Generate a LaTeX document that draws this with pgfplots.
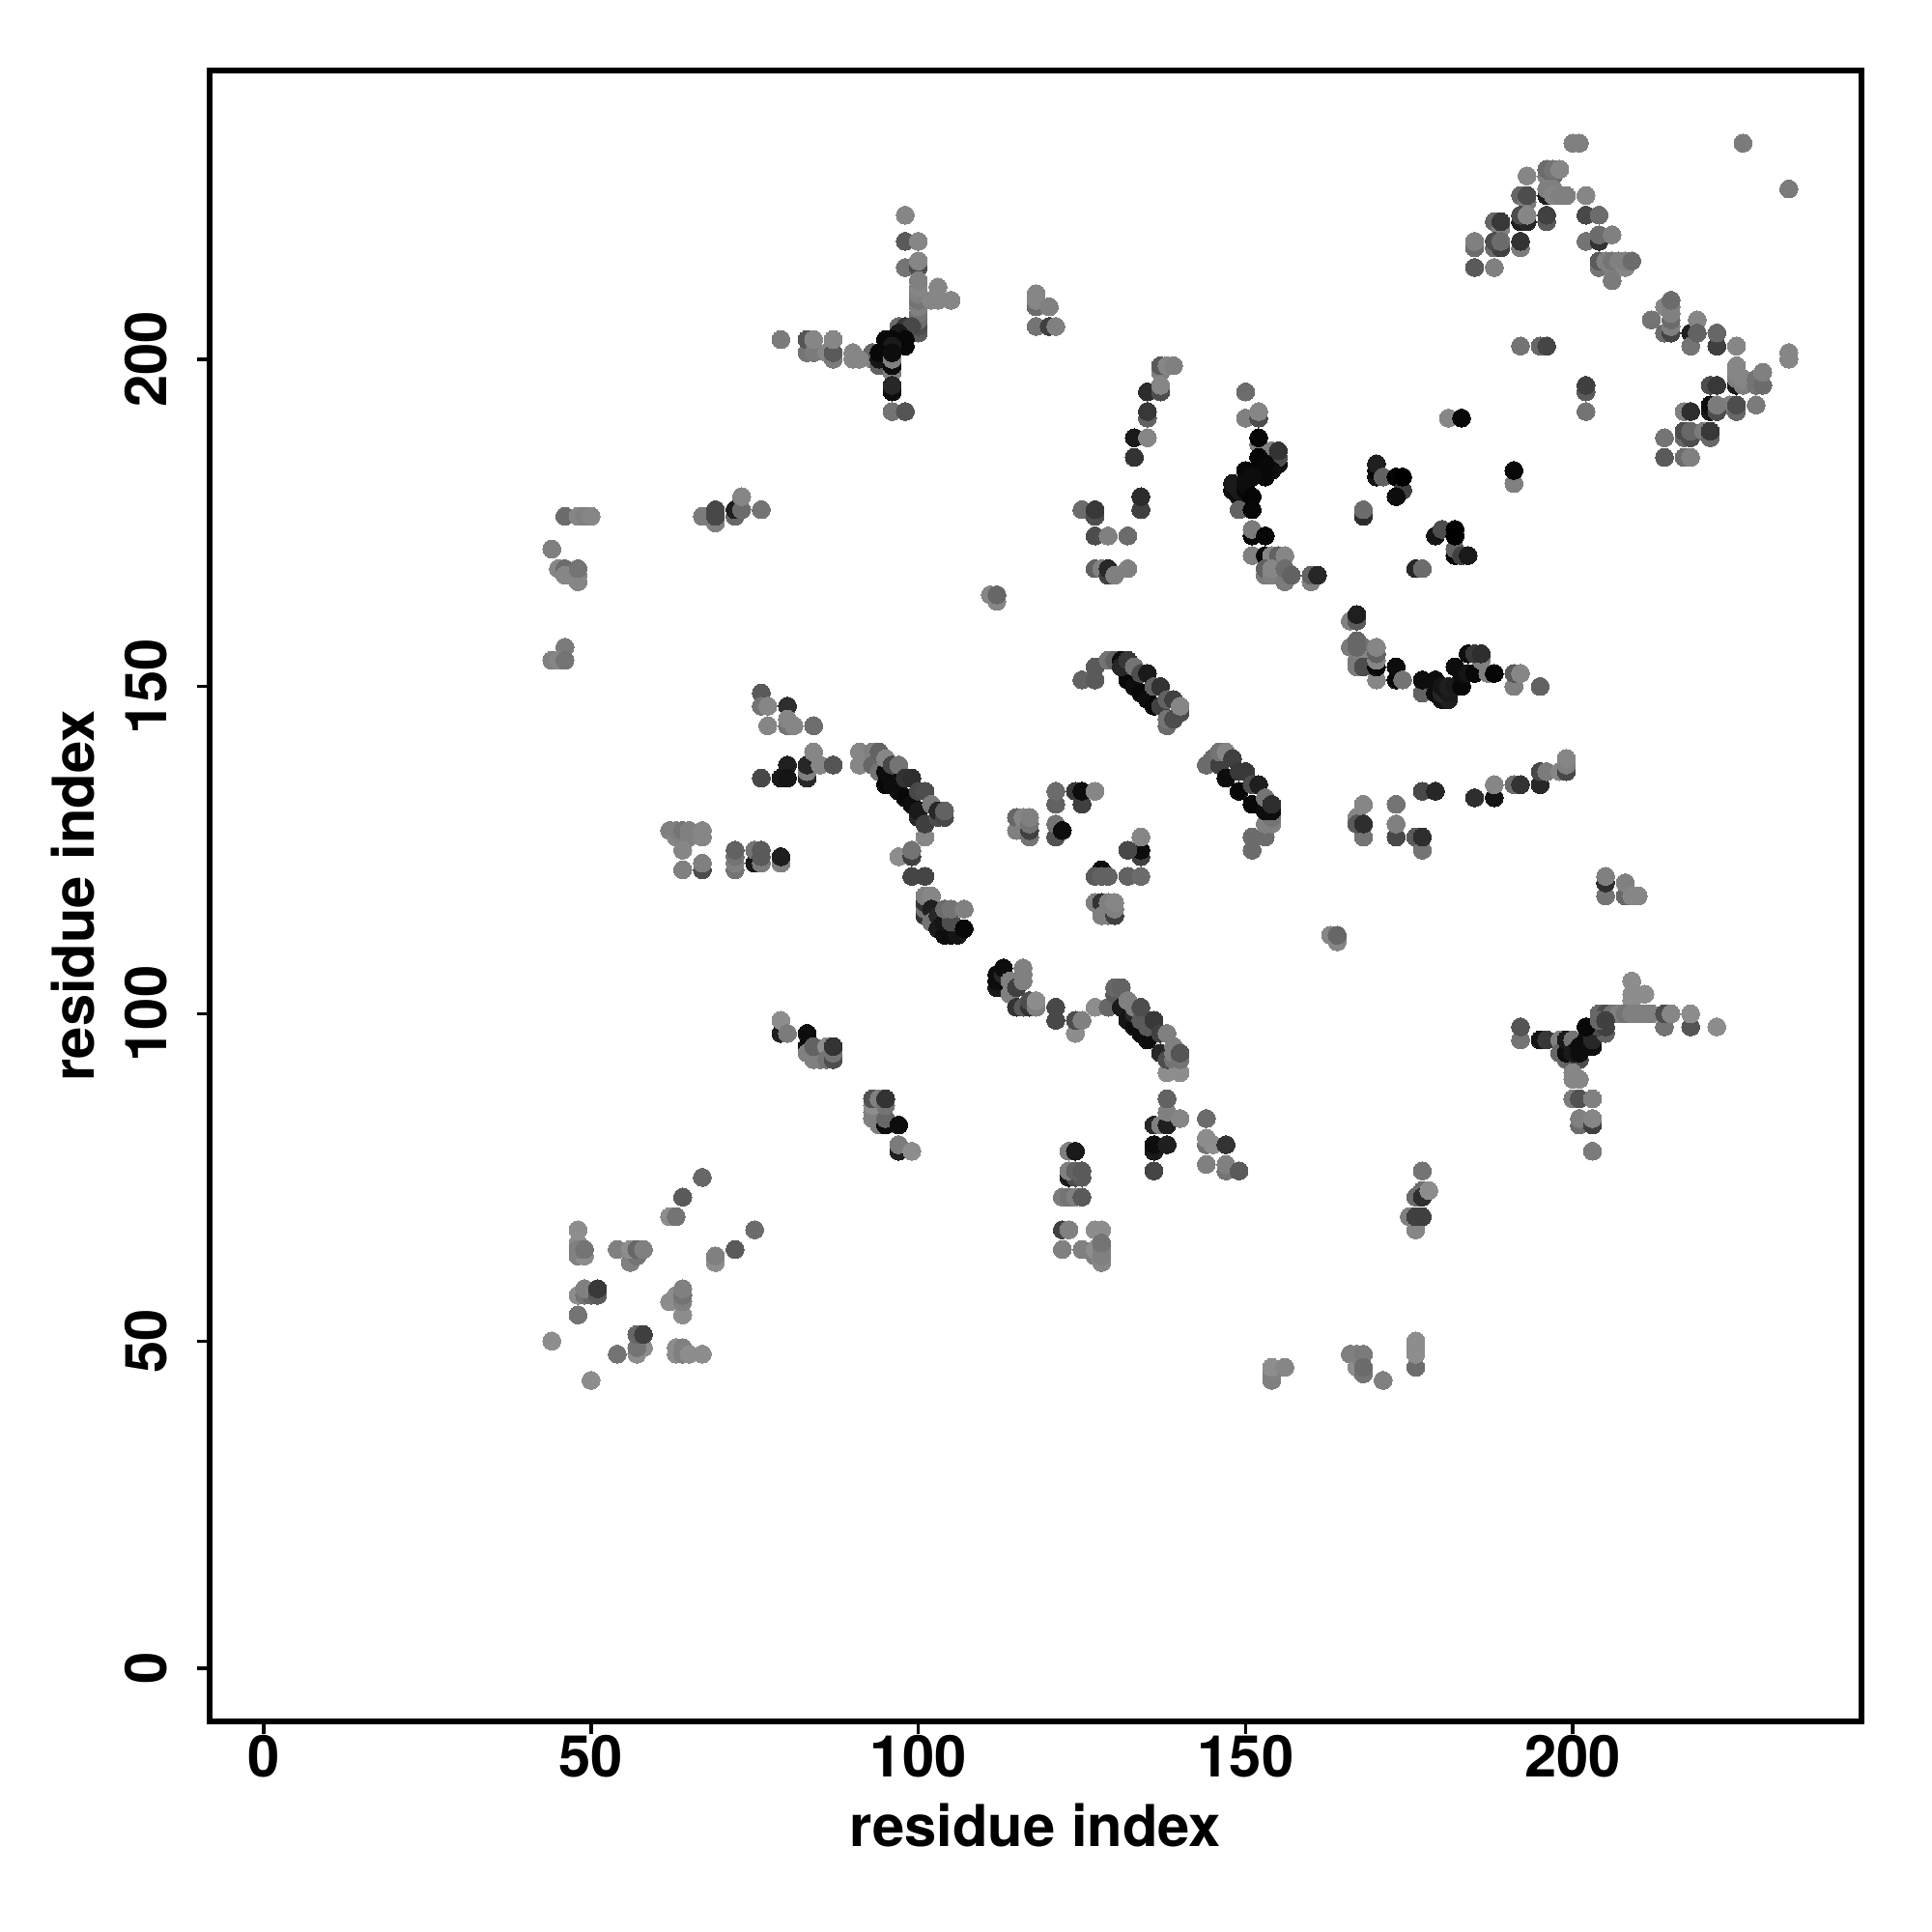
\documentclass[border=0pt]{standalone}
\usepackage{fontspec}
\setmainfont{TeX Gyre Heros}
\usepackage{pgfplots}
\usepackage{pgfplotstable}
\pgfplotsset{compat=1.18}
\pgfplotstableread[row sep=\\]{
x y g\\
44 50 55\\ 50 44 55\\ 48 54 45\\ 54 48 45\\ 57 48 55\\ 58 49 55\\ 57 49 45\\ 57 51 40\\ 58 51 25\\
63 49 55\\ 63 48 55\\ 64 49 50\\ 64 48 50\\ 65 48 55\\ 67 48 55\\
64 54 55\\ 62 56 55\\ 63 57 55\\ 64 56 50\\ 64 57 45\\ 64 58 50\\
48 57 55\\ 49 57 45\\ 50 57 40\\ 49 58 50\\ 51 57 35\\ 51 58 22\\
48 67 55\\ 48 65 55\\ 48 63 50\\ 49 63 55\\ 48 64 50\\ 49 64 45\\
54 64 50\\ 56 62 50\\ 57 63 45\\ 56 64 55\\ 57 64 40\\ 58 64 50\\
69 62 55\\ 69 63 50\\ 72 64 35\\ 75 67 42\\ 67 75 40\\ 64 72 35\\ 62 69 55\\ 63 69 45\\
79 97 12\\ 79 99 55\\ 80 97 48\\ 83 97 5\\ 83 95 5\\ 83 94 50\\ 84 93 50\\ 85 93 50\\ 84 95 38\\ 86 95 55\\ 86 93 45\\ 87 93 30\\ 87 94 45\\ 87 95 20\\
93 84 50\\ 93 85 50\\ 93 86 55\\ 94 83 50\\ 93 87 32\\ 94 87 50\\ 95 83 5\\ 95 84 40\\ 95 86 45\\ 95 87 20\\ 97 83 5\\
97 79 12\\ 97 80 48\\ 99 79 55\\
112 104 10\\ 112 105 5\\ 112 106 5\\ 113 106 15\\ 113 107 5\\ 114 103 50\\ 114 105 50\\ 115 104 25\\ 116 106 50\\ 116 107 50\\ 116 105 50\\
115 101 20\\ 116 101 35\\ 117 101 20\\ 117 102 30\\ 118 101 50\\ 118 102 55\\
121 101 28\\ 121 99 28\\ 124 97 55\\ 124 99 30\\ 125 99 50\\ 127 101 55\\ 129 101 40\\
130 103 35\\ 130 104 40\\ 131 104 38\\ 131 101 10\\ 132 102 50\\ 132 99 8\\ 133 98 5\\ 133 100 15\\ 133 101 50\\ 134 97 5\\ 134 99 35\\ 134 101 30\\ 135 96 5\\ 135 98 35\\ 136 99 22\\ 137 94 15\\ 137 97 25\\ 138 91 55\\ 138 93 30\\ 139 93 45\\ 138 97 50\\ 139 94 50\\ 139 95 50\\ 140 91 55\\ 140 93 45\\ 140 94 33\\
136 83 15\\ 137 83 50\\ 138 83 12\\ 138 85 50\\ 138 87 38\\ 140 84 52\\ 144 84 42\\ 144 80 45\\ 144 81 55\\ 145 80 55\\ 147 80 20\\ 144 77 50\\ 147 76 45\\ 147 77 50\\ 149 76 35\\
136 79 10\\ 136 80 5\\ 138 80 12\\ 136 76 27\\
123 79 50\\ 124 79 10\\ 123 75 10\\ 124 75 30\\ 125 75 35\\ 123 76 50\\ 124 76 38\\ 125 76 35\\ 122 72 48\\ 123 72 45\\ 124 72 50\\ 125 72 35\\
122 67 25\\ 123 67 50\\ 122 64 50\\ 125 64 50\\ 127 67 55\\ 128 67 55\\ 127 63 50\\ 127 64 55\\ 128 62 52\\ 128 63 50\\ 128 64 50\\ 128 65 45\\
154 44 50\\ 154 45 50\\ 154 46 55\\ 156 46 52\\ 166 48 50\\ 167 46 55\\ 167 48 50\\ 168 48 48\\ 168 45 45\\ 168 46 42\\ 171 44 50\\
176 46 42\\ 176 48 55\\ 176 49 55\\ 176 50 55\\
177 76 45\\ 177 73 42\\ 176 72 42\\ 177 72 18\\ 178 73 55\\ 175 69 50\\ 176 67 52\\ 176 69 25\\ 177 69 25\\
209 102 55\\ 209 103 55\\ 209 105 55\\ 211 103 55\\
204 100 40\\ 205 100 30\\ 206 100 45\\ 207 100 50\\ 208 100 45\\ 209 100 50\\ 210 100 50\\ 211 100 50\\ 212 100 50\\ 214 98 45\\ 214 100 30\\ 215 100 52\\ 218 98 33\\ 218 100 55\\ 222 98 55\\
192 96 45\\ 192 98 33\\ 195 96 8\\ 196 96 22\\ 198 96 50\\ 198 94 40\\ 199 93 40\\ 200 93 35\\ 201 93 30\\ 199 94 5\\ 199 96 10\\ 200 96 45\\ 200 94 10\\ 201 94 5\\ 201 95 5\\ 202 95 5\\ 203 95 5\\ 202 96 5\\ 203 96 15\\ 205 97 38\\ 204 98 30\\ 205 98 25\\ 202 98 3\\ 204 99 40\\ 205 99 25\\
200 90 52\\ 200 91 52\\ 201 90 52\\ 200 87 48\\ 201 87 32\\ 203 87 50\\ 201 83 42\\ 201 84 50\\ 203 83 25\\ 203 84 52\\ 203 79 48\\
46 156 48\\ 44 154 50\\ 45 154 52\\ 46 154 45\\
76 149 35\\ 76 147 45\\ 77 147 52\\ 80 147 18\\ 77 144 52\\ 80 144 45\\ 80 145 52\\ 81 144 52\\ 84 144 43\\
83 136 15\\ 83 137 50\\ 80 138 12\\ 83 138 15\\ 84 140 52\\ 85 138 52\\ 87 138 33\\ 76 136 28\\ 79 136 10\\ 80 136 8\\
91 140 52\\ 91 138 52\\ 93 140 50\\ 93 138 40\\ 94 137 45\\ 94 140 38\\ 95 135 3\\ 95 137 5\\ 96 135 5\\ 96 136 5\\ 95 139 52\\ 96 138 28\\ 97 134 5\\ 97 138 45\\ 98 133 3\\ 98 136 20\\ 99 136 18\\ 99 132 5\\ 100 130 15\\ 100 131 10\\ 100 134 28\\ 101 127 52\\ 101 129 25\\ 101 134 30\\ 102 132 48\\ 103 130 30\\ 103 131 15\\ 104 130 28\\ 104 131 38\\
62 128 50\\ 63 127 52\\ 63 128 50\\ 64 127 50\\ 64 128 45\\ 65 127 50\\ 65 128 50\\ 67 127 52\\ 67 128 52\\ 64 125 52\\ 64 122 50\\ 67 122 30\\ 67 123 50\\
72 122 45\\ 72 123 50\\ 72 124 45\\ 72 125 38\\ 75 123 10\\ 75 125 45\\ 76 123 48\\ 76 124 35\\ 76 125 35\\ 79 123 50\\ 79 124 12\\
97 124 55\\ 99 124 25\\ 99 125 45\\ 99 121 27\\ 101 121 27\\
101 115 20\\ 101 116 45\\ 101 117 20\\ 101 118 50\\ 102 118 52\\ 102 116 12\\ 102 114 45\\ 103 115 15\\ 103 113 10\\ 104 112 5\\ 104 114 8\\ 105 112 5\\ 106 112 8\\ 105 114 30\\ 104 116 42\\ 105 116 45\\ 107 116 50\\ 107 113 3\\
125 151 38\\ 127 151 35\\ 127 153 35\\ 129 154 45\\ 130 154 38\\ 132 151 3\\ 131 154 5\\ 131 153 15\\ 132 154 22\\ 133 150 5\\ 133 153 45\\ 134 149 3\\ 134 152 30\\ 135 148 5\\ 135 152 10\\ 136 147 3\\ 136 150 38\\ 137 147 25\\ 137 150 20\\ 138 144 42\\ 138 145 45\\ 139 145 30\\ 138 148 38\\ 139 148 25\\ 140 146 30\\ 140 147 52\\
144 138 42\\ 145 139 42\\ 146 138 25\\ 146 140 45\\ 147 136 5\\ 147 140 52\\ 148 139 25\\ 149 134 3\\ 149 137 22\\ 150 137 22\\ 151 132 3\\ 151 135 30\\ 152 135 12\\ 151 125 42\\ 151 127 42\\ 153 127 42\\ 153 129 50\\ 154 129 50\\ 154 130 45\\ 153 131 5\\ 154 131 5\\ 153 133 45\\ 154 132 18\\
121 132 38\\ 121 134 42\\ 124 134 22\\ 125 132 25\\ 125 134 5\\ 127 134 52\\
115 128 50\\ 115 130 40\\ 116 128 50\\ 116 130 52\\ 117 127 45\\ 117 128 25\\ 117 129 45\\ 117 130 50\\
121 127 32\\ 121 129 45\\ 122 128 5\\
134 124 25\\ 134 125 5\\ 134 127 52\\ 132 125 28\\ 128 122 5\\ 127 121 35\\ 128 121 38\\ 129 121 38\\ 132 121 38\\ 134 121 42\\
127 117 50\\ 128 117 20\\ 128 115 50\\ 129 115 50\\ 129 117 50\\ 130 115 25\\ 130 116 50\\ 130 117 52\\
164 111 52\\ 163 112 52\\ 164 112 40\\
168 127 45\\ 167 130 52\\ 167 129 35\\ 168 129 18\\ 168 132 52\\ 173 132 45\\ 173 127 28\\ 173 129 50\\ 176 127 35\\ 177 125 45\\ 177 127 18\\ 177 134 28\\ 179 134 15\\
166 156 48\\ 168 156 45\\ 167 154 48\\ 168 154 52\\ 167 156 40\\ 167 157 40\\ 167 153 48\\ 168 153 30\\ 170 151 52\\ 170 153 3\\ 170 154 52\\ 170 155 38\\ 170 156 52\\ 173 151 3\\ 173 153 5\\ 174 151 45\\
177 149 38\\ 177 151 5\\ 179 149 5\\ 179 151 5\\ 180 148 8\\ 181 148 12\\ 180 149 15\\ 181 149 10\\ 180 150 8\\ 181 150 12\\ 182 150 10\\ 182 153 5\\ 183 150 3\\ 183 152 5\\ 184 152 8\\ 184 155 5\\ 185 152 3\\ 186 154 50\\ 185 155 22\\ 186 155 18\\ 187 152 50\\ 188 152 2\\ 191 150 50\\ 191 152 35\\ 192 152 52\\ 195 150 38\\
185 133 18\\ 188 133 8\\ 188 135 52\\ 191 135 42\\ 192 135 20\\ 195 135 15\\ 195 137 28\\ 196 137 48\\ 198 137 52\\ 199 137 28\\ 199 138 50\\ 199 139 52\\
205 118 45\\ 205 120 18\\ 205 121 50\\ 208 118 40\\ 208 120 50\\ 209 118 52\\ 210 118 52\\
98 222 52\\ 98 218 35\\ 100 218 52\\ 98 214 45\\ 100 214 30\\ 100 215 52\\ 100 204 35\\ 100 205 30\\ 100 206 42\\ 100 207 45\\ 100 208 50\\ 100 209 45\\ 100 210 50\\ 100 211 52\\ 100 212 50\\ 103 211 52\\ 102 209 52\\ 103 209 52\\ 105 209 52\\
97 205 42\\ 98 205 22\\ 99 205 28\\ 97 204 10\\ 98 203 3\\ 98 202 3\\ 95 202 5\\ 95 203 3\\ 96 203 3\\ 96 202 10\\
93 200 50\\ 93 201 40\\ 94 199 38\\ 94 200 8\\ 94 201 3\\ 96 198 50\\ 96 199 5\\ 96 200 50\\ 96 201 5\\ 96 195 5\\ 96 196 15\\ 96 192 45\\ 98 192 33\\
79 203 48\\ 83 201 45\\ 83 203 33\\ 84 201 48\\ 84 203 52\\ 86 201 52\\ 87 200 48\\ 87 201 35\\ 87 203 52\\ 90 200 52\\ 90 201 52\\ 91 200 52\\
46 176 42\\ 48 176 52\\ 49 176 50\\ 50 176 52\\ 44 171 50\\ 45 168 52\\ 46 168 42\\ 46 167 52\\ 48 166 52\\ 48 167 52\\ 48 168 45\\
67 176 48\\ 69 175 50\\ 69 176 28\\ 69 177 28\\ 72 176 40\\ 72 177 12\\ 73 177 42\\ 73 179 52\\ 76 177 45\\
111 164 52\\ 112 163 52\\ 112 164 40\\
118 208 42\\ 118 209 52\\ 118 210 52\\ 120 208 50\\ 118 205 45\\ 120 205 25\\ 121 205 50\\
137 198 50\\ 137 199 35\\ 138 199 52\\ 139 199 50\\ 135 195 17\\ 137 195 30\\ 137 196 52\\ 135 191 38\\ 135 192 22\\ 133 188 10\\ 135 188 52\\ 133 185 20\\ 134 177 25\\ 134 179 17\\
125 177 42\\ 127 176 30\\ 127 177 22\\ 127 173 30\\ 129 173 50\\ 132 173 42\\ 127 168 38\\ 128 168 50\\ 129 167 25\\ 129 168 15\\ 130 167 50\\ 132 168 50\\
150 195 42\\ 150 191 50\\ 152 191 30\\ 152 192 52\\ 152 187 50\\ 152 188 2\\ 154 186 50\\ 155 184 5\\ 155 185 30\\ 155 186 20\\ 154 183 5\\ 152 183 3\\ 152 185 2\\ 153 182 3\\ 153 184 3\\ 150 183 3\\ 151 182 5\\ 148 180 5\\ 148 181 10\\ 149 179 5\\ 149 180 10\\ 150 180 3\\ 150 181 5\\ 151 179 2\\ 149 177 38\\ 151 177 3\\
151 173 3\\ 151 174 48\\ 153 173 3\\ 151 170 50\\ 153 170 3\\ 154 170 52\\ 155 170 38\\ 156 170 52\\ 153 167 48\\ 153 168 38\\ 154 167 50\\ 154 168 52\\ 156 166 48\\ 156 168 42\\ 157 167 38\\ 160 166 50\\ 160 167 38\\ 161 167 15\\
168 176 17\\ 168 177 42\\ 170 182 8\\ 170 183 3\\ 170 184 12\\ 171 182 38\\ 173 182 2\\ 174 180 25\\ 174 182 0\\ 173 179 5\\ 176 168 15\\ 177 168 42\\
166 160 50\\ 167 160 35\\ 167 161 12\\
181 191 52\\ 183 191 3\\ 191 181 50\\ 191 183 3\\ 179 173 8\\ 180 174 30\\ 182 170 3\\ 182 171 38\\ 182 173 0\\ 182 174 0\\ 183 170 25\\ 184 170 10\\
202 195 35\\ 202 196 25\\ 202 192 45\\ 192 202 45\\ 195 202 40\\ 196 202 27\\
200 233 50\\ 201 233 50\\ 226 233 48\\ 233 226 48\\
193 228 52\\ 196 228 50\\ 197 228 42\\ 196 229 42\\ 197 229 45\\ 198 229 52\\ 196 225 12\\ 196 226 50\\ 197 226 50\\ 197 225 52\\ 198 225 50\\ 199 225 50\\ 202 225 52\\
192 225 40\\ 193 224 48\\ 193 225 30\\ 192 221 12\\ 193 221 15\\ 192 222 30\\ 193 222 52\\ 196 221 35\\ 196 222 25\\
202 222 28\\ 204 222 42\\ 202 218 45\\ 204 218 20\\ 204 219 42\\ 206 219 50\\
188 221 40\\ 189 220 50\\ 189 221 22\\ 188 217 42\\ 189 217 25\\ 188 218 30\\ 189 218 42\\ 185 217 42\\ 185 218 50\\ 192 217 48\\ 192 218 20\\ 185 214 35\\ 188 214 50\\
204 214 45\\ 204 215 35\\ 205 215 50\\ 206 214 50\\ 206 215 45\\ 207 215 50\\ 208 214 52\\ 208 215 50\\ 209 215 42\\ 206 212 48\\
212 206 45\\ 214 204 42\\ 214 208 52\\ 215 204 27\\ 215 205 50\\ 215 206 42\\ 215 207 50\\ 215 208 50\\ 215 209 42\\
218 204 12\\ 218 202 45\\ 219 206 52\\ 219 204 38\\ 222 202 25\\ 222 204 40\\ 225 202 52\\ 233 200 52\\ 233 201 52\\
225 196 10\\ 225 197 50\\ 225 198 52\\ 225 199 52\\ 226 196 50\\ 226 197 52\\ 228 196 45\\ 228 197 45\\ 229 196 42\\ 229 198 50\\ 221 196 30\\ 222 196 22\\
228 193 48\\ 224 193 50\\ 225 192 40\\ 225 193 30\\ 221 192 10\\ 221 193 5\\ 222 192 30\\ 222 193 48\\ 217 192 50\\ 218 192 18\\
214 188 45\\ 217 188 40\\ 218 188 30\\ 217 189 30\\ 218 189 40\\ 220 189 48\\ 221 188 40\\ 221 189 22\\ 214 185 35\\ 217 185 42\\ 218 185 50\\
}\contactdata
\begin{document}
\begin{tikzpicture}[x=1cm,y=1cm]
\path[use as bounding box] (0,0) rectangle (20,20);
\begin{axis}[
  at={(2.17cm,2.18cm)}, anchor=south west,
  scale only axis, width=17.10cm, height=17.09cm,
  xmin=-8.28, xmax=244.1, ymin=-8.1, ymax=244.1,
  axis line style={line width=1.6pt},
  xtick={0,50,100,150,200}, ytick={0,50,100,150,200},
  tick align=outside, tick pos=left,
  major tick length=0.13cm,
  every tick/.style={black,line width=1pt},
  /pgf/number format/assume math mode=true,
  ticklabel style={font=\fontsize{17}{19}\selectfont\bfseries},
  yticklabel style={rotate=90,anchor=south,yshift=5.4pt},
  xticklabel style={yshift=3.2pt},
  label style={font=\fontsize{17}{19}\selectfont\bfseries},
  xlabel={residue index}, ylabel={residue index},
  xlabel style={yshift=-0.7pt},
  ylabel style={yshift=1.8pt},
  colormap={g}{gray(0cm)=(0); gray(100cm)=(1)},
  point meta min=0, point meta max=100,
]
\addplot[scatter, only marks, mark=*, mark size=2.65pt, point meta=explicit,
  scatter/use mapped color={draw=mapped color,fill=mapped color},
  mark options={line width=0pt}]
  table[x=x,y=y,meta=g] {\contactdata};
\end{axis}
\end{tikzpicture}
\end{document}
